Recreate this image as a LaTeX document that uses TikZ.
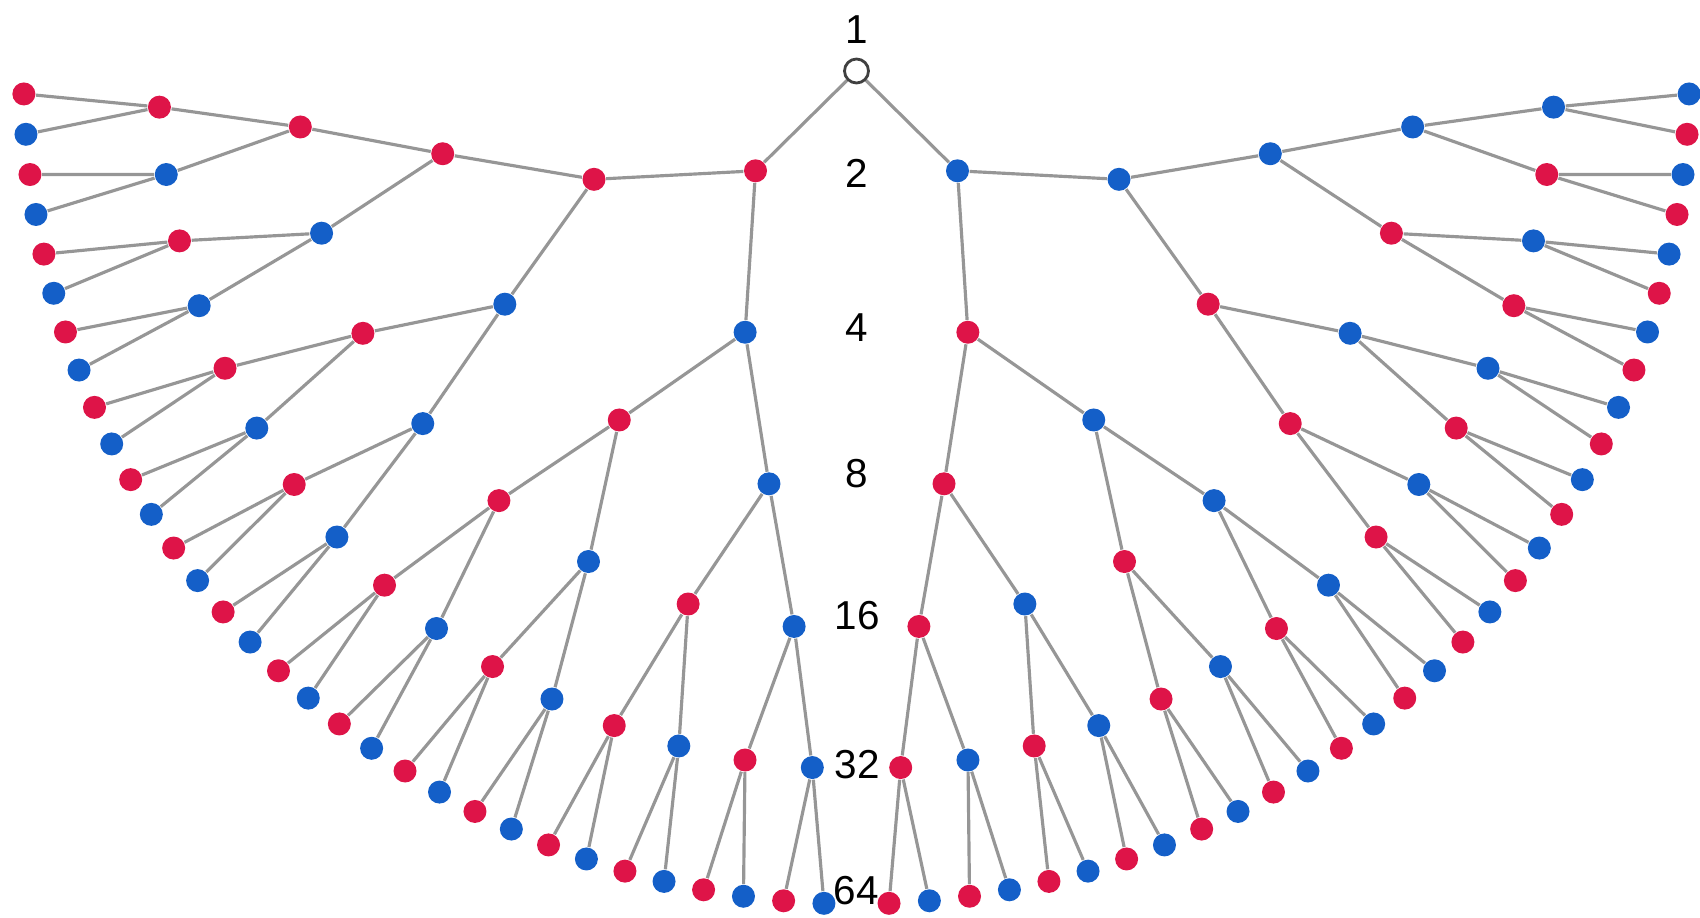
\documentclass[tikz,border=0pt]{standalone}
\usepackage{fontspec}
\setmainfont{Liberation Sans}
\usetikzlibrary{positioning,backgrounds}
\definecolor{treered}{RGB}{222,20,72}
\definecolor{treeblue}{RGB}{20,95,200}
\definecolor{edgegray}{RGB}{150,150,150}

\begin{document}
\begin{tikzpicture}[
  dot/.style={circle, minimum size=0.23cm, inner sep=0pt},
  dot0/.style={dot, fill=treered},
  dot1/.style={dot, fill=treeblue},
  link/.style={line width=0.9pt, edgegray},
  lvl/.style={font=\fontsize{11.5}{13}\selectfont, inner sep=0pt}]
\useasboundingbox (0,0) rectangle (17,9.18);
% Root
\node[circle, draw=black!75, fill=white, line width=0.8pt,
      minimum size=0.24cm, inner sep=0pt] (n-0-0) at (8.565,8.47) {};
% Levels 1..6, placed on circles round the root
\foreach \d/\rad in {1/1.42, 2/2.84, 3/4.22, 4/5.59, 5/6.98, 6/8.33} {
  \pgfmathtruncatemacro{\last}{2^\d-1}
  \foreach \j in {0,...,\last} {
    % offset of the subtree's mean leaf from the middle
    \pgfmathsetmacro{\c}{(\j+0.5)*2^(6-\d)-32}
    \pgfmathsetmacro{\ang}{270+(\c/abs(\c))*(0.85+abs(\c)*2.78)}
    \pgfmathtruncatemacro{\odd}{mod(\j,2)}
    \node[dot\odd] (n-\d-\j) at ([shift={(\ang:\rad)}]n-0-0.center) {};
  }
}
% Edges parent -> child
\begin{scope}[on background layer]
\foreach \d in {1,...,6} {
  \pgfmathtruncatemacro{\last}{2^\d-1}
  \pgfmathtruncatemacro{\p}{\d-1}
  \foreach \j in {0,...,\last} {
    \pgfmathtruncatemacro{\k}{floor(\j/2)}
    \draw[link] (n-\p-\k) -- (n-\d-\j);
  }
}
\end{scope}
% Level counts
\node[lvl] (lab-1) at (8.57,8.88) {1};
\node[lvl] (lab-2) at (8.57,7.45) {2};
\node[lvl] (lab-4) at (8.57,5.90) {4};
\node[lvl] (lab-8) at (8.57,4.44) {8};
\node[lvl] (lab-16) at (8.57,3.02) {16};
\node[lvl] (lab-32) at (8.57,1.53) {32};
\node[lvl] (lab-64) at (8.56,0.27) {64};
\end{tikzpicture}
\end{document}
